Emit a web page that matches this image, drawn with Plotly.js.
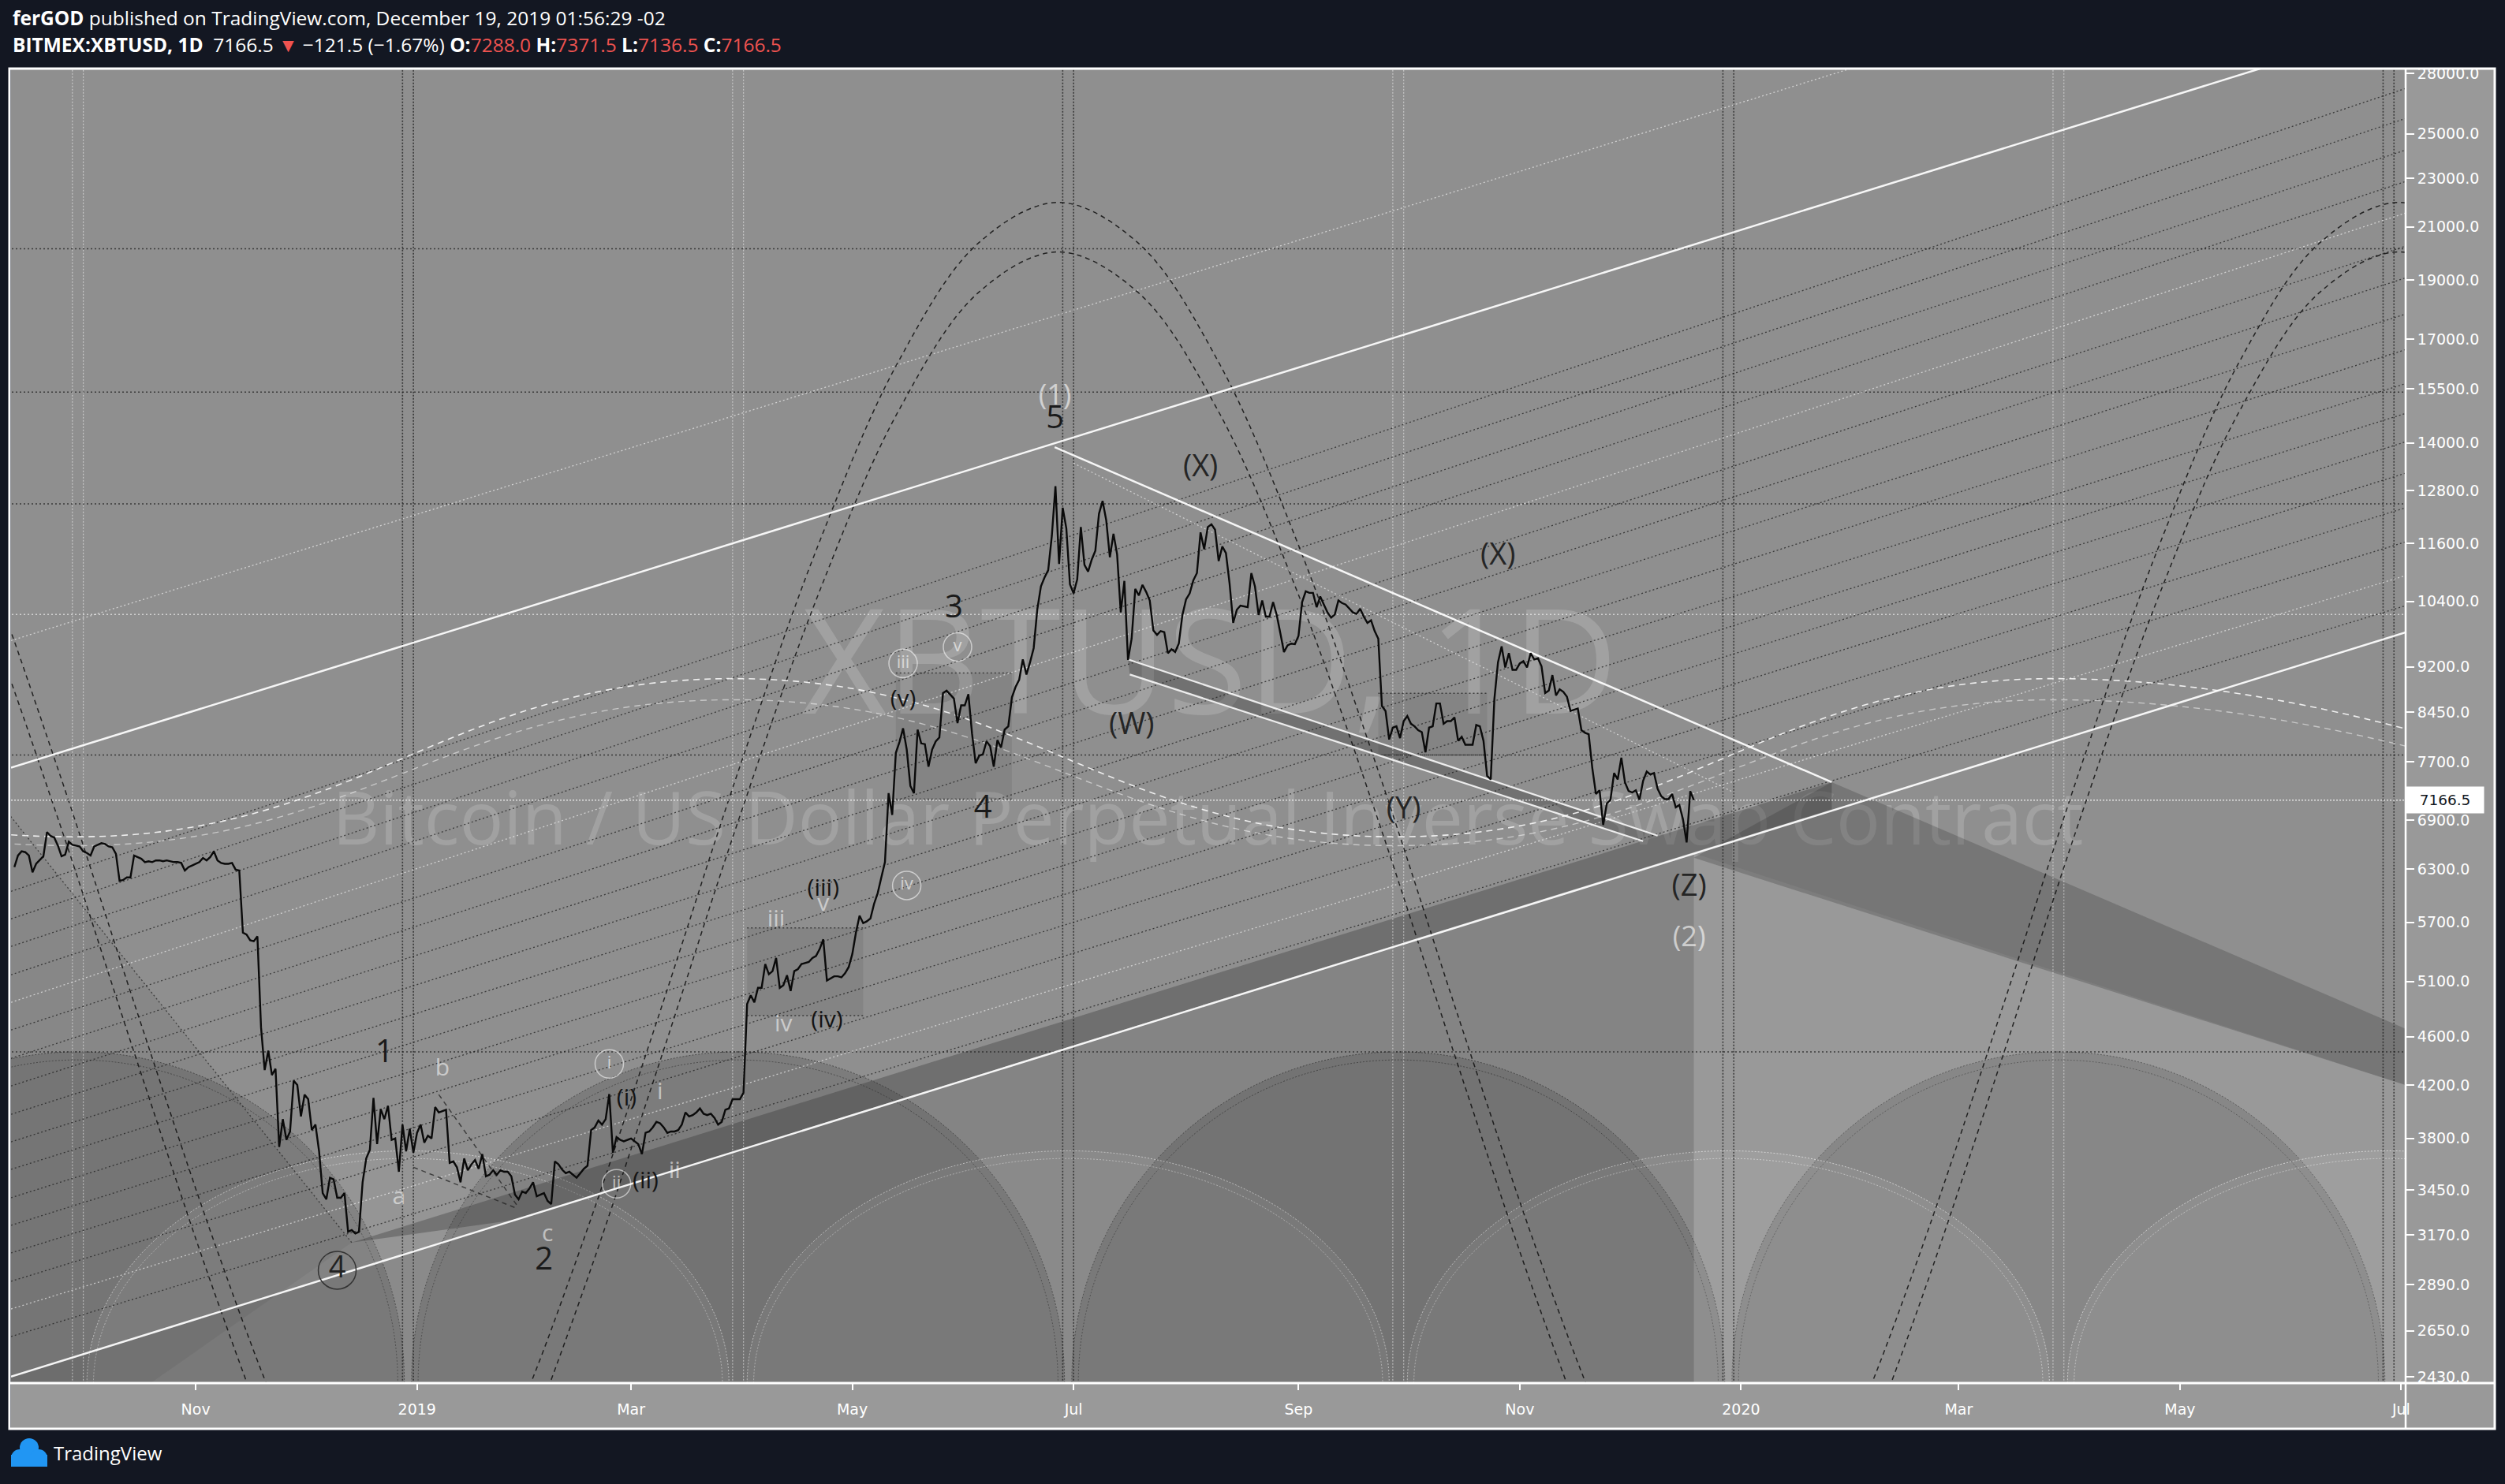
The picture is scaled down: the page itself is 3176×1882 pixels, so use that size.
<!DOCTYPE html>
<html>
<head>
<meta charset="utf-8">
<script src="https://cdn.plot.ly/plotly-3.0.1.min.js"></script>
<style>
html,body{margin:0;padding:0;background:#131722;}
#chart{width:3176px;height:1882px;}
</style>
</head>
<body>
<div id="chart"></div>
<script>
// ---------------- DATA: BITMEX:XBTUSD daily close ----------------
const firstDay = '2018-09-12';
const close2018_09 = [6320,6460,6510,6500,6460,6260,6360,6400,6450,6750,6700,6680,6580,6450,6470,6630,6590,6580,6570];
const close2018_10 = [6510,6490,6460,6570,6590,6610,6600,6570,6560,6480,6160,6170,6200,6200,6460,6440,6420,6380,6390,6380,6400,6400,6390,6400,6390,6380,6380,6370,6280,6320,6340];
const close2018_11 = [6360,6380,6430,6400,6440,6510,6400,6370,6360,6360,6370,6290,6280,5590,5570,5510,5500,5550,4680,4320,4480,4280,4330,3740,3940,3790,3850,4235,4200,3960];
const close2018_12 = [4125,4090,3860,3900,3710,3430,3390,3530,3520,3400,3400,3430,3190,3200,3180,3190,3500,3660,3720,4100,3760,4015,3940,4040,3790,3800,3570,3900,3710,3870,3700];
const close2019_01 = [3840,3900,3770,3820,3800,4030,3990,4000,4010,3630,3640,3600,3500,3660,3580,3620,3650,3590,3690,3540,3550,3580,3550,3580,3570,3570,3540,3420,3390,3440,3430];
const close2019_02 = [3460,3500,3410,3420,3430,3380,3360,3640,3620,3584,3560,3570,3550,3530,3560,3590,3610,3860,3880,3930,3900,3940,4130,3700,3810,3790,3780,3790];
const close2019_03 = [3800,3780,3760,3690,3840,3850,3880,3920,3910,3880,3840,3850,3850,3860,3900,3990,3960,3970,3990,4020,3980,3970,3980,3950,3900,3920,4010,4020,4090,4090,4090];
const close2019_04 = [4140,4890,4970,4905,5040,5040,5270,5170,5200,5330,5040,5065,5160,5010,5200,5220,5270,5280,5290,5330,5350,5420,5520,5110,5130,5150,5150,5140,5180,5240];
const close2019_05 = [5370,5590,5770,5690,5710,5740,5900,6020,6200,6380,7260,6970,7830,7990,8200,7880,7360,7260,8180,7970,7960,7630,7880,8000,8060,8760,8800,8730,8670,8280,8560];
const close2019_06 = [8560,8740,8120,7680,7790,7810,8000,7930,7630,8020,7910,8180,8230,8690,8860,8980,9330,9070,9280,9530,10250,10700,10880,11030,11760,12910,11160,12400,11930,10740];
const close2019_07 = [10560,10840,11960,11140,11000,11250,11440,12260,12560,12110,11300,11810,11360,10190,10810,9320,9700,10650,10520,10730,10590,10420,9850,9770,9840,9820,9440,9510,9460,9610,10140];
const close2019_08 = [10440,10560,10820,10970,11840,11470,11960,12020,11900,11220,11530,11390,10760,9990,10240,10320,10300,10290,10970,10700,10140,10420,10110,10110,10390,10140,9800,9460,9580,9610,9600];
const close2019_09 = [9750,10390,10600,10570,10570,10290,10500,10340,10190,10090,10150,10420,10370,10340,10270,10190,10160,10260,10110,9990,10040,9840,9700,8550,8470,8030,8210,8230,8050,8310];
const close2019_10 = [8390,8270,8230,8170,8140,7840,8210,8230,8590,8590,8270,8310,8310,8370,8010,8070,7950,7950,7950,8250,8230,8010,7500,7450,8660,9280,9560,9190,9440,9150,9150];
const close2019_11 = [9260,9300,9190,9440,9330,9350,9210,8760,8800,9060,8720,8820,8780,8700,8470,8490,8510,8170,8130,8110,7610,7250,7300,6840,7120,7170,7540,7450,7760,7410];
const close2019_12 = [7290,7270,7300,7170,7430,7560,7520,7540,7320,7220,7180,7180,7250,7070,7100,6910,6620,7288,7166.5];
const lastPrice = 7166.5;

// ---------------- AXES ----------------
const xRange = ['2018-09-11 02:00', '2020-07-02 05:00'];
const yRange = [2402, 28250];
const xTickVals = ['2018-11-01','2019-01-01','2019-03-01','2019-05-01','2019-07-01','2019-09-01','2019-11-01','2020-01-01','2020-03-01','2020-05-01','2020-07-01'];
const xTickText = ['Nov','2019','Mar','May','Jul','Sep','Nov','2020','Mar','May','Jul'];
const yTickVals = [2430,2650,2890,3170,3450,3800,4200,4600,5100,5700,6300,6900,7700,8450,9200,10400,11600,12800,14000,15500,17000,19000,21000,23000,25000,28000];

// ---------------- DRAWINGS (dates / prices) ----------------
const vLinesDark = ['2018-12-28','2018-12-31','2019-06-28','2019-07-01','2019-12-27','2019-12-30','2020-06-26','2020-06-29'];
const vLinesLight = ['2018-09-28','2018-10-01','2019-03-29','2019-04-01','2019-09-27','2019-09-30','2020-03-27','2020-03-30'];
const hLinesDark = [20150, 15400, 12490, 7800, 4470];
const hLinesLight = [10150];

const upperChannel = {x:[xRange[0], xRange[1]], y:[7616, 30750]};
const lowerChannel = {x:[xRange[0], xRange[1]], y:[2431, 9816]};
const outerChannel = {x:[xRange[0], xRange[1]], y:[9666, 39050]};
const fanLeft  = [6040,5736,5447,5165,4905,4657,4416,4193,3976,3776,3586,3400,3229,3066,2907,2760,2621];
const fanRight = [27220,25730,24250,22860,21550,20250,19080,17830,16680,15650,14800,14030,13230,12400,11630,10920,10320];
const fanLightIdx = [4, 15];

const descLine  = {x:['2019-06-25 19:00','2020-01-26'], y:[13890, 7412]};
const descLight = {x:['2019-07-01','2019-12-30'], y:[13480, 7270]};
const wyzTop    = {x:['2019-07-16','2019-12-09'], y:[9330, 6705]};
const wyzBottom = {x:['2019-07-16 12:00','2019-12-05'], y:[9070, 6636]};
const fallLine  = {x:['2018-09-11','2018-12-14'], y:[6950, 3126]};
const abcLine1  = {x:['2019-01-07','2019-01-29'], y:[4126, 3338]};
const abcLine2  = {x:['2018-12-31','2019-01-28'], y:[3600, 3338]};

const shadeLowerLeft = {x:[xRange[0],'2019-12-19','2019-12-19',xRange[0]], y:[2431,6487,2000,2000]};
const shadeFall      = {x:[xRange[0],'2018-12-14',xRange[0]], y:[6950,3126,2000]};
const shadeRight     = {x:['2019-12-19',xRange[1],xRange[1],'2019-12-19'], y:[6487,4200,2000,2000]};
const bandA = {x:['2018-12-14','2020-01-26','2020-01-26','2019-01-27'], y:[3126,7412,7045,3258]};
const bandB = {x:['2019-12-19','2020-01-26',xRange[1],xRange[1]], y:[6432,7412,4668,4200]};
const boxX0 = ['2019-04-02','2019-05-13','2019-09-23'];
const boxX1 = ['2019-05-04','2019-06-14','2019-10-23'];
const boxY0 = [4785, 7180, 7800];
const boxY1 = [5640, 9097, 8755];

// cycle arcs: offsets (days) from each peak and prices
const arcPeaks = ['2018-06-28','2019-06-26 19:00','2020-06-30 12:00'];
const arcOffsetDays = [-167,-149.5,-132,-110,-88,-66,-44,-22,0,22,44,66,88,110,132,149.5,167];
const arcOuterPrice = [1750,2245,3075,4800,7600,11600,16330,20370,21980,20370,16330,11600,7600,4800,3075,2245,1750];
const arcInnerPrice = [1595,2045,2800,4375,6925,10570,14880,18565,20030,18565,14880,10570,6925,4375,2800,2045,1595];

// sine waves (white dashed)
const sineX = ['2018-03-31','2018-09-29','2019-03-29','2019-09-28','2020-03-27','2020-09-26'];
const sineUpperY = [9000,6690,9000,6690,9000,6690];
const sineLowerY = [8650,6580,8650,6580,8650,6580];

// domes
const darkDomeCenters  = ['2018-09-29 12:00','2019-03-30 12:00','2019-09-28 12:00','2020-03-28 12:00'];
const darkDomeHalfDays = 90, darkDomeY = [1300, 4470];
const lightDomeCenters = ['2018-12-29 12:00','2019-06-29 12:00','2019-12-28 12:00','2020-06-27 12:00'];
const lightDomeHalfDays = 88.5, lightDomeY = [1555, 3713];

// wave labels
const numText = ['1','2','3','4','5'];
const numX = ['2018-12-23','2019-02-05','2019-05-29','2019-06-06','2019-06-25 21:00'];
const numY = [4450, 3015, 10250, 7035, 14620];
const parenText = ['(i)','(ii)','(iii)','(iv)','(v)'];
const parenX = ['2019-02-27 19:00','2019-03-05','2019-04-23','2019-04-24','2019-05-15'];
const parenY = [4085, 3500, 6060, 4730, 8640];
const wxyzText = ['(W)','(X)','(X)','(Y)','(Z)'];
const wxyzX = ['2019-07-17','2019-08-05','2019-10-26','2019-09-30','2019-12-17 17:00'];
const wxyzY = [8220, 13330, 11310, 7020, 6075];
const majorText = ['(1)','(2)'];
const majorX = ['2019-06-25 21:00','2019-12-17 17:00'];
const majorY = [15240, 5520];
const minorText = ['a','b','c','iii','v','iv','i','ii'];
const minorX = ['2018-12-27','2019-01-08','2019-02-06','2019-04-10','2019-04-23','2019-04-12','2019-03-09','2019-03-13'];
const minorY = [3395, 4323, 3168, 5720, 5885, 4695, 4135, 3570];
const circText = ['i','ii','iii','v','iv'];
const circX = ['2019-02-23','2019-02-25','2019-05-15','2019-05-30','2019-05-16'];
const circY = [4370, 3490, 9260, 9550, 6107];
const circDarkText = ['4'];
const circDarkX = ['2018-12-10'];
const circDarkY = [2968];

// ---------------- helpers ----------------
function ms(d){ const [a,b] = d.split(' '); const [Y,M,D] = a.split('-').map(Number); let h=0,mi=0; if(b){[h,mi]=b.split(':').map(Number);} return Date.UTC(Y,M-1,D,h,mi); }
function fmt(t){ return new Date(t).toISOString().replace('T',' ').slice(0,19); }
function addDays(d,n){ return fmt(ms(d) + n*86400000); }

const closes = [].concat(close2018_09,close2018_10,close2018_11,close2018_12,close2019_01,close2019_02,close2019_03,close2019_04,close2019_05,close2019_06,close2019_07,close2019_08,close2019_09,close2019_10,close2019_11,close2019_12);
const dates = closes.map((_,i)=>fmt(ms(firstDay)+i*86400000).slice(0,10));

const traces = [];
const base = {type:'scatter', hoverinfo:'skip', showlegend:false, cliponaxis:true};
function addLine(x,y,color,width,dash,extra){ traces.push(Object.assign({}, base, {mode:'lines', x, y, line:{color, width, dash:dash||'solid'}, connectgaps:false}, extra||{})); }
function addPoly(x,y,fill){ traces.push(Object.assign({}, base, {mode:'lines', x, y, fill:'toself', fillcolor:fill, line:{width:0, color:'rgba(0,0,0,0)'}})); }
function addText(x,y,text,size,color,family){ traces.push(Object.assign({}, base, {mode:'text', x, y, text, textposition:'middle center', textfont:{family:family||'Open Sans', size, color}})); }

// watermark
traces.push(Object.assign({}, base, {mode:'text', x:['2019-08-07 14:00','2019-08-07'], y:[9022, 6825],
  text:['XBTUSD, 1D','Bitcoin / US Dollar Perpetual Inverse Swap Contract'], textposition:'middle center',
  textfont:{family:'Open Sans', size:[185, 93], color:'rgba(255,255,255,0.17)'}}));

// shaded regions
addPoly(shadeLowerLeft.x, shadeLowerLeft.y, 'rgba(0,0,0,0.07)');
addPoly(shadeFall.x, shadeFall.y, 'rgba(0,0,0,0.05)');
addPoly(shadeRight.x, shadeRight.y, 'rgba(255,255,255,0.09)');
addPoly(bandA.x, bandA.y, 'rgba(45,45,45,0.32)');
addPoly(bandB.x, bandB.y, 'rgba(45,45,45,0.26)');
addPoly(wyzTop.x.concat(wyzBottom.x.slice().reverse()), wyzTop.y.concat(wyzBottom.y.slice().reverse()), 'rgba(45,45,45,0.30)');
for(let i=0;i<boxX0.length;i++){
  addPoly([boxX0[i],boxX1[i],boxX1[i],boxX0[i]], [boxY0[i],boxY0[i],boxY1[i],boxY1[i]], 'rgba(0,0,0,0.07)');
  addLine([boxX0[i],boxX1[i],null,boxX0[i],boxX1[i]], [boxY1[i],boxY1[i],null,boxY0[i],boxY0[i]], 'rgba(30,30,30,0.7)', 1.5, '2px,3px');
}

// horizontal / vertical lines
function hl(vals){ const x=[],y=[]; vals.forEach(v=>{x.push('2018-01-01','2021-01-01',null); y.push(v,v,null);}); return {x,y}; }
function vl(vals){ const x=[],y=[]; vals.forEach(v=>{x.push(v,v,null); y.push(1000,60000,null);}); return {x,y}; }
let t = hl(hLinesDark); addLine(t.x,t.y,'rgba(35,35,35,0.8)',1.5,'2px,3px');
t = hl(hLinesLight); addLine(t.x,t.y,'rgba(255,255,255,0.6)',1.5,'2px,3px');
t = vl(vLinesDark); addLine(t.x,t.y,'rgba(35,35,35,0.8)',1.6,'2px,2px');
t = vl(vLinesLight); addLine(t.x,t.y,'rgba(255,255,255,0.5)',1.2,'2px,2px');

// fan of dotted channel lines
(function(){
  const dx=[],dy=[],lx=[],ly=[];
  fanLeft.forEach((v,i)=>{ const tx = fanLightIdx.includes(i)?lx:dx, ty = fanLightIdx.includes(i)?ly:dy;
    tx.push(xRange[0],xRange[1],null); ty.push(v,fanRight[i],null); });
  addLine(dx,dy,'rgba(30,30,30,0.75)',1.3,'2px,3px');
  addLine(lx,ly,'rgba(255,255,255,0.6)',1.3,'2px,3px');
})();
addLine(outerChannel.x, outerChannel.y, 'rgba(255,255,255,0.6)', 1.3, '2px,3px');
addLine(fallLine.x, fallLine.y, 'rgba(30,30,30,0.7)', 1.3, '2px,3px');
addLine(abcLine1.x, abcLine1.y, 'rgba(35,35,35,0.75)', 1.5, '6px,5px');
addLine(abcLine2.x, abcLine2.y, 'rgba(35,35,35,0.75)', 1.5, '6px,5px');

// cycle arcs (black dashed)
arcPeaks.forEach(p=>{
  const xs = arcOffsetDays.map(o=>addDays(p,o));
  addLine(xs, arcOuterPrice, '', 0, '', {line:{color:'rgba(15,15,15,0.85)',width:1.5,dash:'6px,5px',shape:'spline',smoothing:1}});
  addLine(xs, arcInnerPrice, '', 0, '', {line:{color:'rgba(15,15,15,0.85)',width:1.5,dash:'6px,5px',shape:'spline',smoothing:1}});
});
// sine waves (white dashed)
addLine(sineX, sineUpperY, '', 0, '', {line:{color:'rgba(255,255,255,0.85)',width:1.6,dash:'8px,6px',shape:'spline',smoothing:1.3}});
addLine(sineX, sineLowerY, '', 0, '', {line:{color:'rgba(255,255,255,0.5)',width:1.4,dash:'8px,6px',shape:'spline',smoothing:1.3}});

// channel lines (white solid)
addLine(upperChannel.x, upperChannel.y, 'rgba(255,255,255,0.92)', 2.5);
addLine(lowerChannel.x, lowerChannel.y, 'rgba(255,255,255,0.92)', 2.5);
addLine(descLine.x, descLine.y, 'rgba(255,255,255,0.92)', 2.5);
addLine(descLight.x, descLight.y, 'rgba(255,255,255,0.6)', 1.2, '2px,3px');
addLine(wyzTop.x, wyzTop.y, 'rgba(255,255,255,0.85)', 2.2);
addLine(wyzBottom.x, wyzBottom.y, 'rgba(255,255,255,0.85)', 2.2);

// last price line
addLine(['2018-01-01','2021-01-01'], [lastPrice,lastPrice], 'rgba(255,255,255,0.75)', 1.5, '2px,2px');

// price
addLine(dates, closes, '#0a0a0a', 2.4);

// labels
addText(numX, numY, numText, 40, '#1a1a1a');
addText(parenX, parenY, parenText, 30, '#141414');
addText(wxyzX, wxyzY, wxyzText, 38, '#252525');
addText(majorX, majorY, majorText, 36, 'rgba(255,255,255,0.6)');
addText(minorX, minorY, minorText, 30, 'rgba(255,255,255,0.55)');
traces.push(Object.assign({}, base, {mode:'markers+text', x:circX, y:circY, text:circText, textposition:'middle center',
  textfont:{family:'Open Sans', size:22, color:'rgba(255,255,255,0.6)'},
  marker:{symbol:'circle-open', size:36, color:'rgba(255,255,255,0.55)', line:{width:1.5, color:'rgba(255,255,255,0.55)'}}}));
traces.push(Object.assign({}, base, {mode:'markers+text', x:circDarkX, y:circDarkY, text:circDarkText, textposition:'middle center',
  textfont:{family:'Open Sans', size:38, color:'#222'},
  marker:{symbol:'circle-open', size:48, color:'#333', line:{width:1.5, color:'#333'}}}));

// ---------------- SHAPES ----------------
const shapes = [];
darkDomeCenters.forEach(c=>{
  shapes.push({type:'circle', xref:'x', yref:'y', layer:'below', x0:addDays(c,-darkDomeHalfDays), x1:addDays(c,darkDomeHalfDays), y0:darkDomeY[0], y1:darkDomeY[1],
    fillcolor:'rgba(0,0,0,0.13)', line:{color:'rgba(30,30,30,0.6)', width:1, dash:'2px,2px'}});
  shapes.push({type:'circle', xref:'x', yref:'y', layer:'below', x0:addDays(c,-darkDomeHalfDays+1.8), x1:addDays(c,darkDomeHalfDays-1.8), y0:1310, y1:4403,
    fillcolor:'rgba(0,0,0,0)', line:{color:'rgba(30,30,30,0.5)', width:1, dash:'2px,2px'}});
});
lightDomeCenters.forEach(c=>{
  shapes.push({type:'circle', xref:'x', yref:'y', layer:'below', x0:addDays(c,-lightDomeHalfDays), x1:addDays(c,lightDomeHalfDays), y0:lightDomeY[0], y1:lightDomeY[1],
    fillcolor:'rgba(255,255,255,0.06)', line:{color:'rgba(255,255,255,0.6)', width:1, dash:'2px,2px'}});
  shapes.push({type:'circle', xref:'x', yref:'y', layer:'below', x0:addDays(c,-lightDomeHalfDays+1.8), x1:addDays(c,lightDomeHalfDays-1.8), y0:1570, y1:3660,
    fillcolor:'rgba(0,0,0,0)', line:{color:'rgba(255,255,255,0.45)', width:1, dash:'2px,2px'}});
});
// axis panels & borders (paper coords)
const PX = px => (px-14)/3036, PY = py => (1754-py)/1667;
shapes.push({type:'rect', xref:'paper', yref:'paper', layer:'below', x0:1, x1:PX(3163), y0:PY(1812), y1:1, fillcolor:'#999999', line:{width:0}});
shapes.push({type:'rect', xref:'paper', yref:'paper', layer:'below', x0:0, x1:1, y0:PY(1812), y1:0, fillcolor:'#999999', line:{width:0}});
shapes.push({type:'rect', xref:'paper', yref:'paper', layer:'above', x0:PX(12), x1:PX(3163), y0:PY(1812), y1:PY(87), line:{color:'#ffffff', width:3}});
shapes.push({type:'line', xref:'paper', yref:'paper', layer:'above', x0:1, x1:1, y0:PY(1812), y1:PY(87), line:{color:'#ffffff', width:2.5}});
shapes.push({type:'line', xref:'paper', yref:'paper', layer:'above', x0:PX(12), x1:PX(3163), y0:0, y1:0, line:{color:'#ffffff', width:3}});
// TradingView logo blob
[[25,1849,11],[37,1836,12],[49,1849,11]].forEach(c=>{
  shapes.push({type:'circle', xref:'paper', yref:'paper', layer:'above', x0:PX(c[0]-c[2]), x1:PX(c[0]+c[2]), y0:PY(c[1]+c[2]), y1:PY(c[1]-c[2]), fillcolor:'#2196f3', line:{width:0}});
});
shapes.push({type:'rect', xref:'paper', yref:'paper', layer:'above', x0:PX(14), x1:PX(60), y0:PY(1860), y1:PY(1845), fillcolor:'#2196f3', line:{width:0}});

// ---------------- ANNOTATIONS ----------------
const red = '#ef5350';
const annotations = [
  {xref:'paper', yref:'paper', x:0, y:PY(23), xanchor:'left', yanchor:'middle', showarrow:false,
   text:'<b>ferGOD</b> published on TradingView.com, December 19, 2019 01:56:29 -02', font:{family:'Open Sans', size:24.5, color:'#ffffff'}},
  {xref:'paper', yref:'paper', x:0, y:PY(57), xanchor:'left', yanchor:'middle', showarrow:false,
   text:'<b>BITMEX:XBTUSD, 1D</b>  7166.5 <span style="color:'+red+'">▼</span> −121.5 (−1.67%) <b>O:</b><span style="color:'+red+'">7288.0</span> <b>H:</b><span style="color:'+red+'">7371.5</span> <b>L:</b><span style="color:'+red+'">7136.5</span> <b>C:</b><span style="color:'+red+'">7166.5</span>',
   font:{family:'Open Sans', size:24.5, color:'#ffffff'}},
  {xref:'paper', yref:'y', x:1, y:Math.log10(lastPrice), xanchor:'left', yanchor:'middle', showarrow:false,
   text:'7166.5', bgcolor:'#ffffff', width:86, borderpad:6, align:'center', font:{family:'DejaVu Sans', size:18.5, color:'#131722'}},
  {xref:'paper', yref:'paper', x:PX(66), y:PY(1843), xanchor:'left', yanchor:'middle', showarrow:false,
   text:'TradingView', font:{family:'Open Sans', size:24, color:'#ffffff'}}
];

const layout = {
  width:3176, height:1882,
  paper_bgcolor:'#131722', plot_bgcolor:'#8f8f8f',
  margin:{l:14, r:126, t:87, b:128, pad:0},
  showlegend:false, hovermode:false,
  font:{family:'DejaVu Sans', color:'#ffffff'},
  xaxis:{type:'date', range:xRange, tickvals:xTickVals, ticktext:xTickText, ticks:'outside', ticklen:8, tickwidth:2, tickcolor:'#ffffff',
    tickfont:{family:'DejaVu Sans', size:19, color:'#ffffff'}, showgrid:false, zeroline:false, showline:false, automargin:false, ticklabelstandoff:8},
  yaxis:{type:'log', side:'right', range:[Math.log10(yRange[0]), Math.log10(yRange[1])], tickvals:yTickVals, ticktext:yTickVals.map(v=>v.toFixed(1)),
    ticks:'outside', ticklen:10, tickwidth:2, tickcolor:'#ffffff', tickfont:{family:'DejaVu Sans', size:19, color:'#ffffff'},
    showgrid:false, zeroline:false, showline:false, automargin:false},
  shapes, annotations
};

Plotly.newPlot('chart', traces, layout, {staticPlot:true, displayModeBar:false});
</script>
</body>
</html>
